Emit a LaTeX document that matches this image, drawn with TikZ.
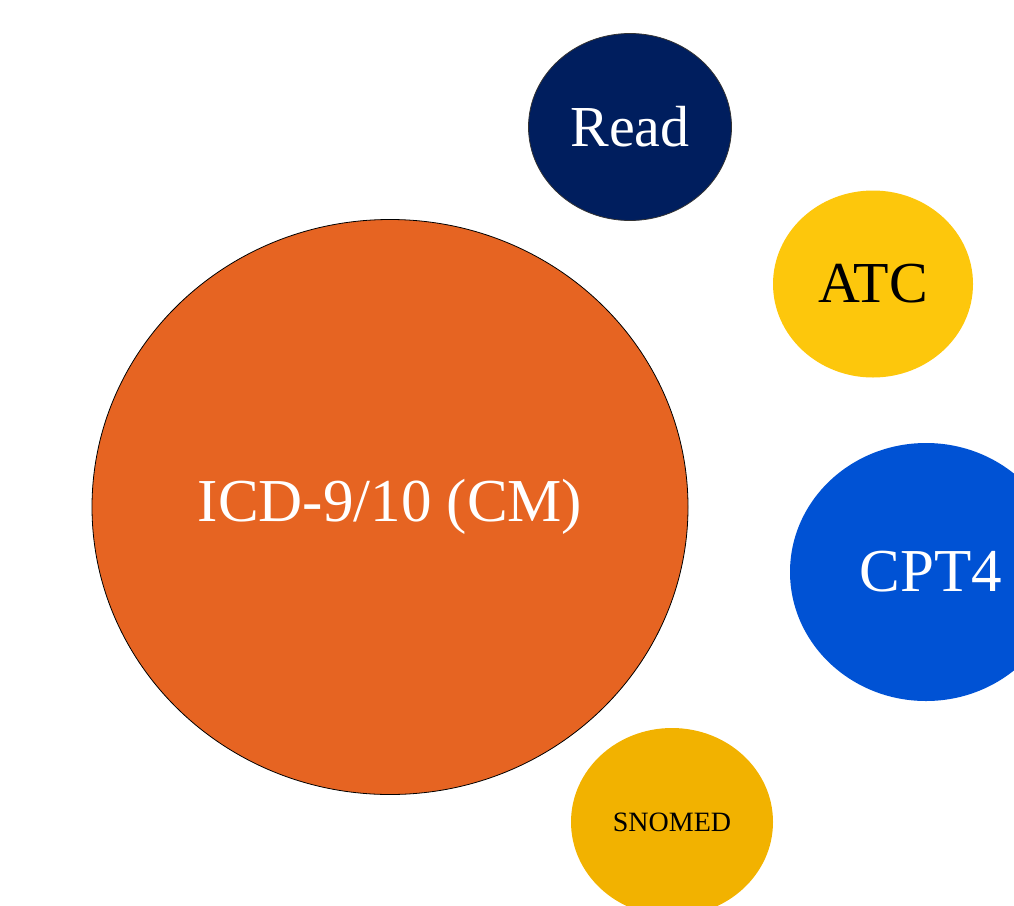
\documentclass[tikz,border=0pt]{standalone}
\usepackage{fontspec}
\setmainfont{Liberation Serif}
\usetikzlibrary{shapes.geometric}
\definecolor{icdorange}{HTML}{E66422}
\definecolor{readnavy}{HTML}{001E5E}
\definecolor{atcyellow}{HTML}{FDC70C}
\definecolor{cptblue}{HTML}{0052D4}
\definecolor{snogold}{HTML}{F2B200}
\tikzset{
  bubble/.style={ellipse, inner sep=0pt, outer sep=0pt},
  bigtext/.style={font=\fontsize{58}{60}\selectfont},
  widetext/.style={font=\fontsize{61}{63}\selectfont},
}
\begin{document}
\begin{tikzpicture}[x=1pt,y=-1pt]
  \useasboundingbox (0,0) rectangle (1014,905);
  \clip (0,0) rectangle (1014,905);
  % terminology bubbles
  \node[bubble, fill=icdorange, draw=black, line width=0.8pt,
        minimum width=596pt, minimum height=575pt,
        text=white, widetext] (icd) at (390,507) {\raisebox{-3pt}{ICD-9/10 (CM)}};
  \node[bubble, fill=readnavy, draw=black!80, line width=0.8pt,
        minimum width=203pt, minimum height=187pt,
        text=white, bigtext] (read) at (630,127) {Read};
  \node[bubble, fill=atcyellow,
        minimum width=200pt, minimum height=187pt,
        text=black, bigtext] (atc) at (873,284) {ATC};
  \node[bubble, fill=cptblue,
        minimum width=272pt, minimum height=258pt,
        text=white, widetext] (cpt) at (926,572) {\hspace*{10pt}CPT4};
  \node[bubble, fill=snogold,
        minimum width=202pt, minimum height=188pt,
        text=black, font=\fontsize{28}{30}\selectfont] (sno) at (672,822) {SNOMED};
\end{tikzpicture}
\end{document}
